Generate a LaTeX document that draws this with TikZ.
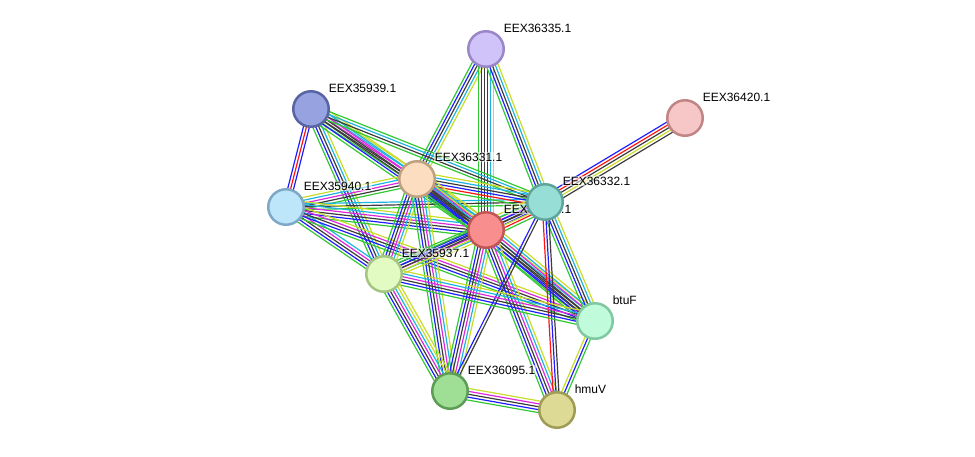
\documentclass[tikz,border=0pt]{standalone}
\usepackage{fontspec}
\setmainfont{Liberation Sans}
\usetikzlibrary{calc}
\pgfdeclarelayer{edges}
\pgfsetlayers{edges,main}
\definecolor{sg}{RGB}{50,200,50}
\definecolor{sr}{RGB}{255,20,20}
\definecolor{sb}{RGB}{30,30,255}
\definecolor{sk}{RGB}{60,60,60}
\definecolor{sm}{RGB}{220,40,220}
\definecolor{sc}{RGB}{30,180,225}
\definecolor{sy}{RGB}{200,220,40}
\newcommand\sedge[3]{%
  \foreach \c [count=\i] in {#3}{\xdef\ecount{\i}}%
  \foreach \c [count=\i] in {#3}{%
    \pgfmathsetmacro\off{(\i-(\ecount+1)/2)*2.9}%
    \draw[\c, sline] ($(#1.center)!\off pt!90:(#2.center)$) -- ($(#2.center)!\off pt!-90:(#1.center)$);
  }%
}
\tikzset{
  sline/.style={line width=1.2pt},
  prot/.style={circle, minimum size=35.5pt, inner sep=0pt, line width=2.5pt},
  plabel/.style={anchor=west, font=\fontsize{12}{14}\selectfont, inner sep=0.6pt, fill=white, fill opacity=0.55, text opacity=1},
}
\begin{document}
\begin{tikzpicture}[x=1pt,y=-1pt]
\useasboundingbox (0,0) rectangle (975,456);
% nodes
\node[prot, fill={rgb,255:red,249;green,142;blue,142}, draw={rgb,255:red,192;green,86;blue,86}] (R) at (486,230) {};
\node[plabel] (Rl) at (503,209) {EEX36333.1};
\node[prot, fill={rgb,255:red,151;green,222;blue,214}, draw={rgb,255:red,94;green,165;blue,158}] (P) at (545,202) {};
\node[plabel] (Pl) at (562,181) {EEX36332.1};
\node[prot, fill={rgb,255:red,208;green,195;blue,249}, draw={rgb,255:red,154;green,135;blue,200}] (A) at (486,49) {};
\node[plabel] (Al) at (503,28) {EEX36335.1};
\node[prot, fill={rgb,255:red,247;green,198;blue,198}, draw={rgb,255:red,192;green,133;blue,133}] (Q) at (685,118) {};
\node[plabel] (Ql) at (702,97) {EEX36420.1};
\node[prot, fill={rgb,255:red,151;green,162;blue,225}, draw={rgb,255:red,89;green,100;blue,164}] (N) at (311,109) {};
\node[plabel] (Nl) at (328,88) {EEX35939.1};
\node[prot, fill={rgb,255:red,253;green,221;blue,192}, draw={rgb,255:red,191;green,160;blue,128}] (O) at (417,179) {};
\node[plabel] (Ol) at (434,157) {EEX36331.1};
\node[prot, fill={rgb,255:red,190;green,230;blue,250}, draw={rgb,255:red,127;green,168;blue,198}] (F) at (286,207) {};
\node[plabel] (Fl) at (303,186) {EEX35940.1};
\node[prot, fill={rgb,255:red,225;green,251;blue,194}, draw={rgb,255:red,165;green,197;blue,133}] (S) at (384,274) {};
\node[plabel] (Sl) at (401,253) {EEX35937.1};
\node[prot, fill={rgb,255:red,192;green,252;blue,219}, draw={rgb,255:red,128;green,200;blue,160}] (B) at (595,321) {};
\node[plabel] (Bl) at (612,300) {btuF};
\node[prot, fill={rgb,255:red,159;green,222;blue,149}, draw={rgb,255:red,93;green,157;blue,85}] (E) at (450,391) {};
\node[plabel] (El) at (467,370) {EEX36095.1};
\node[prot, fill={rgb,255:red,221;green,218;blue,149}, draw={rgb,255:red,159;green,156;blue,85}] (H) at (557,410) {};
\node[plabel] (Hl) at (574,389) {hmuV};
% edges
\begin{pgfonlayer}{edges}
\sedge{A}{O}{sg,sb,sk,sc,sy}
\sedge{A}{R}{sg,sb,sk,sk,sc,sy}
\sedge{A}{P}{sg,sb,sk,sc,sy}
\sedge{Q}{P}{sb,sr,sk,sy,sk}
\sedge{N}{F}{sb,sr,sb}
\sedge{N}{S}{sg,sb,sk,sc,sy}
\sedge{N}{O}{sg,sk,sm,sc,sy}
\sedge{N}{R}{sg,sb,sk,sk,sm,sc,sy}
\sedge{N}{P}{sg,sk,sc,sg}
\sedge{F}{O}{sg,sk,sm,sc,sy}
\sedge{F}{P}{sg,sk,sc}
\sedge{F}{R}{sg,sb,sk,sm,sc,sy}
\sedge{F}{S}{sg,sb,sk,sm,sc}
\sedge{F}{B}{sg,sb,sk,sm,sy}
\sedge{O}{P}{sg,sr,sb,sk,sc,sy}
\sedge{O}{R}{sg,sb,sk,sk,sm,sc,sy}
\sedge{O}{S}{sg,sb,sk,sm,sc,sy}
\sedge{O}{E}{sg,sb,sk,sm,sc,sy}
\sedge{O}{B}{sg,sb,sk,sc,sy}
\sedge{R}{P}{sg,sr,sb,sk,sm,sc,sy}
\sedge{R}{S}{sg,sb,sk,sm,sc,sy}
\sedge{R}{B}{sg,sb,sk,sk,sm,sc,sy}
\sedge{R}{E}{sg,sb,sk,sm,sc,sy}
\sedge{R}{H}{sg,sb,sk,sm,sc,sy}
\sedge{P}{S}{sg,sb,sk,sy}
\sedge{P}{B}{sg,sb,sk,sc,sy}
\sedge{P}{H}{sr,sb,sk}
\sedge{P}{E}{sb,sk}
\sedge{S}{B}{sg,sb,sk,sm,sc,sy}
\sedge{S}{E}{sg,sb,sk,sm,sc,sy,sy}
\sedge{E}{H}{sg,sb,sk,sm,sy}
\sedge{B}{H}{sy,sb,sg}
\end{pgfonlayer}
\end{tikzpicture}
\end{document}
